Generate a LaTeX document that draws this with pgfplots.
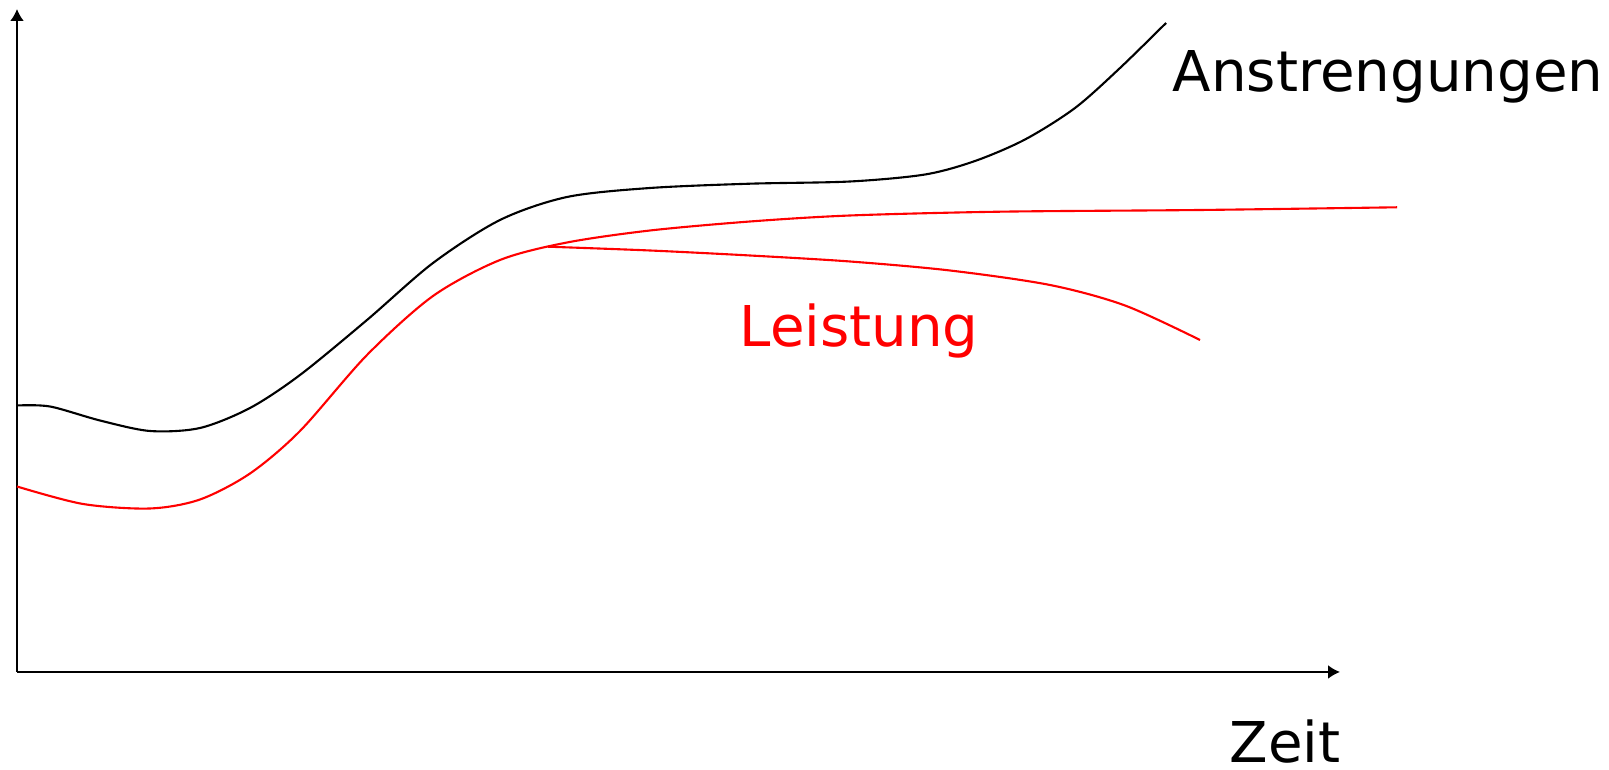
\documentclass[border=0pt]{standalone}
\usepackage{fontspec}
\setmainfont{DejaVu Sans}
\usepackage{pgfplots}
\pgfplotsset{compat=1.18}
\usetikzlibrary{arrows.meta}
\begin{document}
\begin{tikzpicture}
\begin{axis}[
  width=16.09cm, height=7.7cm, scale only axis,
  xmin=0, xmax=1609, ymin=0, ymax=770,
  axis line style={draw=none}, xtick=\empty, ytick=\empty,
  clip=false,
]
% axes
\addplot[black, line width=0.6pt, -{Latex[length=1.2mm,width=1.4mm]}] coordinates {(17,98) (17,761)};
\addplot[black, line width=0.6pt, -{Latex[length=1.2mm,width=1.4mm]}] coordinates {(17,98) (1340,98)};
% Anstrengungen
\addplot[black, line width=0.6pt, smooth] coordinates {
(17,364.5) (50,363.5) (100,349.5) (150,339) (200,342) (250,362) (300,395) (367,450)
(433,507) (500,550) (567,573) (650,582) (750,586.3) (850,588.5) (925,595.5)
(975,609) (1025,630.5) (1075,662) (1120,702) (1166,747)};
% Leistung upper
\addplot[red, line width=0.6pt, smooth] coordinates {
(17,283.5) (83,266) (150,261.5) (200,270.5) (250,296.5) (300,339) (367,415)
(433,474) (500,510) (567,527.5) (650,539.5) (750,548.5) (850,554.5) (1000,558.3)
(1200,560) (1397,562.7)};
% Leistung lower branch
\addplot[red, line width=0.6pt, smooth] coordinates {
(548,523.3) (650,519.5) (750,514.5) (850,508.5) (950,499.5) (1050,485) (1125,464.5) (1200,430)};
\node[anchor=base west, inner sep=0pt, font=\fontsize{16}{19}\selectfont] at (axis cs:1172,678) {Anstrengungen};
\node[anchor=base west, inner sep=0pt, text=red, font=\fontsize{16}{19}\selectfont] at (axis cs:739,423) {Leistung};
\node[anchor=base west, inner sep=0pt, font=\fontsize{16}{19}\selectfont] at (axis cs:1229,7) {Zeit};
\end{axis}
\end{tikzpicture}
\end{document}
